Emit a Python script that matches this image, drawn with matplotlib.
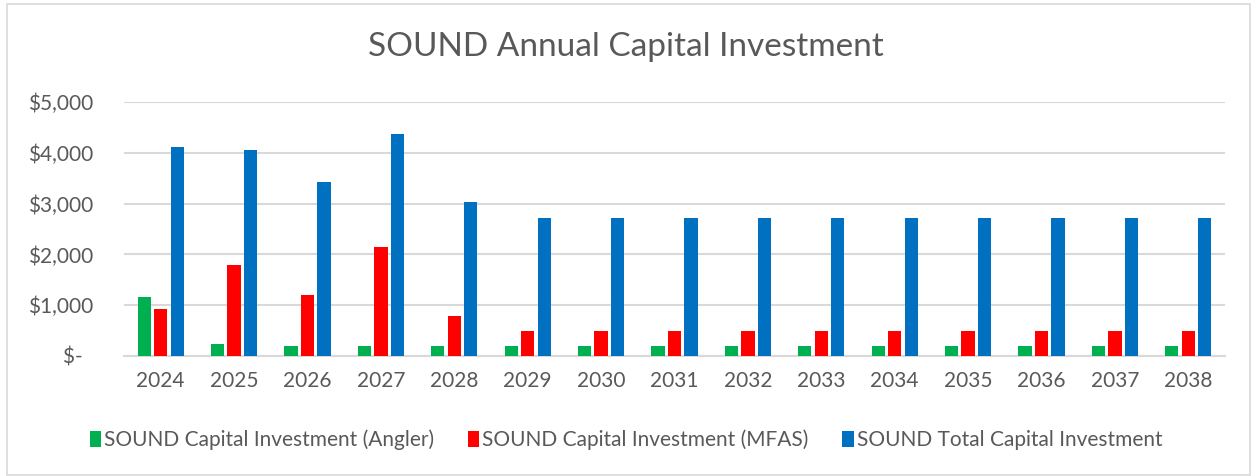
import numpy as np
import matplotlib.pyplot as plt
from matplotlib.patches import Rectangle

years = [str(y) for y in range(2024, 2039)]
angler = [1160, 245, 190, 190, 195, 195, 195, 195, 195, 195, 195, 195, 195, 195, 195]
mfas = [935, 1785, 1195, 2145, 790, 500, 500, 500, 500, 500, 500, 500, 500, 500, 500]
total = [4120, 4060, 3425, 4375, 3030, 2725, 2725, 2725, 2725, 2725, 2725, 2725, 2725, 2725, 2725]

labels = ['SOUND Capital Investment (Angler)', 'SOUND Capital Investment (MFAS)',
          'SOUND Total Capital Investment']
colors = ['#00B050', '#FF0000', '#0070C0']
ytick_labels = ['$-  ', '$1,000', '$2,000', '$3,000', '$4,000', '$5,000']

plt.rcParams['font.family'] = ['Lato', 'DejaVu Sans']
txt = '#595959'

fig = plt.figure(figsize=(12.52, 4.76), dpi=100)
ax = fig.add_axes([124 / 1252, 1 - 356 / 476, 1101 / 1252, 254 / 476])

x = np.arange(len(years))
pitch = 0.225
width = 0.18
for i, (vals, lab, c) in enumerate(zip([angler, mfas, total], labels, colors)):
    ax.bar(x + (i - 1) * pitch, vals, width, color=c, label=lab, zorder=3)

ax.set_xlim(-0.5, len(years) - 0.5)
ax.set_ylim(0, 5000)
ax.set_yticks(np.arange(0, 5001, 1000))
ax.set_yticklabels(ytick_labels)
ax.set_xticks(x)
ax.set_xticklabels(years)
ax.tick_params(axis='both', length=0, labelsize=15, colors=txt)
ax.tick_params(axis='y', pad=22)
ax.tick_params(axis='x', pad=11)
ax.yaxis.grid(True, color='#D9D9D9', linewidth=1.5, zorder=0)
for s in ['top', 'right', 'left']:
    ax.spines[s].set_visible(False)
ax.spines['bottom'].set_color('#D9D9D9')
ax.spines['bottom'].set_linewidth(1.5)

fig.text(0.5, 1 - 47 / 476, 'SOUND Annual Capital Investment', ha='center', va='center',
         fontsize=24, color=txt)

fig.legend(loc='center', bbox_to_anchor=(0.5, 1 - 440 / 476), ncol=3, frameon=False,
           fontsize=15, labelcolor=txt, handlelength=0.55, handleheight=0.75,
           handletextpad=0.15, columnspacing=1.6)

fig.patches.append(Rectangle((7 / 1252, 0.002), 1 - 9 / 1252, 1 - 5 / 476, transform=fig.transFigure,
                             fill=False, edgecolor='#D9D9D9', linewidth=1.2))

fig.savefig('out.png', dpi=100)
